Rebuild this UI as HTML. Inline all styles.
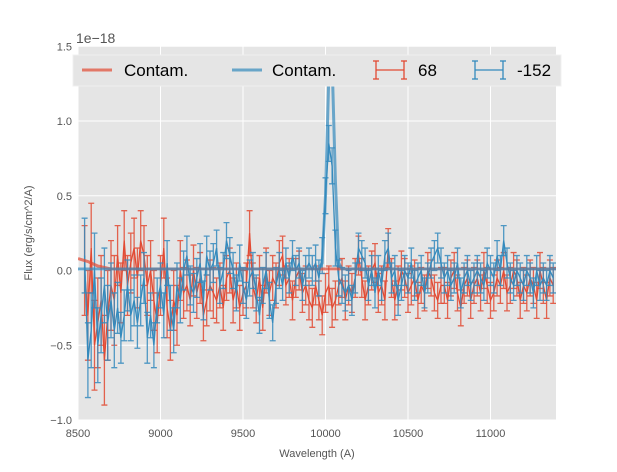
<!DOCTYPE html>
<html><head><meta charset="utf-8"><style>
body{margin:0;background:#fff;font-family:"Liberation Sans","DejaVu Sans",sans-serif}
svg text{font-family:"Liberation Sans","DejaVu Sans",sans-serif}
</style></head><body>
<svg id="chart" width="617" height="467" xmlns="http://www.w3.org/2000/svg">
<rect x="0" y="0" width="617" height="467" fill="#fff"/>
<rect x="78" y="46" width="478" height="374" fill="#e5e5e5"/>
<g id="grid"></g>
<defs><clipPath id="clip"><rect x="78" y="46" width="478" height="374"/></clipPath></defs>
<g id="marks" clip-path="url(#clip)"></g>
<g id="axes"></g>
<text x="76" y="43" font-size="14" fill="#555">1e−18</text>
<text x="317" y="457" font-size="11" fill="#555" text-anchor="middle">Wavelength (A)</text>
<text transform="translate(32,233) rotate(-90)" font-size="11" fill="#555" text-anchor="middle">Flux (erg/s/cm^2/A)</text>
<g>
<rect x="73" y="55" width="488" height="31" fill="#e5e5e5" stroke="#f0f0f0"/>
<line x1="82" y1="70" x2="112" y2="70" stroke="#E24A33" stroke-width="3" opacity="0.7"/>
<text x="124" y="76" font-size="17">Contam.</text>
<line x1="232" y1="70" x2="262" y2="70" stroke="#348ABD" stroke-width="3" opacity="0.7"/>
<text x="272" y="76" font-size="17">Contam.</text>
<g stroke="#E24A33" stroke-width="1.3"><line x1="376" y1="70" x2="404" y2="70"/><line x1="376" y1="61" x2="376" y2="79"/><line x1="404" y1="61" x2="404" y2="79"/><line x1="373" y1="61" x2="379" y2="61"/><line x1="373" y1="79" x2="379" y2="79"/><line x1="401" y1="61" x2="407" y2="61"/><line x1="401" y1="79" x2="407" y2="79"/></g>
<text x="418" y="76" font-size="17">68</text>
<g stroke="#348ABD" stroke-width="1.3"><line x1="475" y1="70" x2="503" y2="70"/><line x1="475" y1="61" x2="475" y2="79"/><line x1="503" y1="61" x2="503" y2="79"/><line x1="472" y1="61" x2="478" y2="61"/><line x1="472" y1="79" x2="478" y2="79"/><line x1="500" y1="61" x2="506" y2="61"/><line x1="500" y1="79" x2="506" y2="79"/></g>
<text x="517" y="76" font-size="17">-152</text>
</g>
</svg>
<script>
const waveStart = 8540, waveStep = 20;
const redFlux = [0.0,-0.3,0.15,-0.5,-0.35,-0.2,-0.6,-0.3,-0.1,
-0.2,0.1,-0.15,0.2,-0.1,0.05,0.15,-0.05,0.2,0.1,
-0.1,0.0,-0.2,-0.35,-0.1,0.15,-0.25,-0.4,-0.2,-0.3,
0.0,-0.15,-0.1,-0.2,0.0,-0.15,-0.05,-0.3,-0.2,-0.1,
-0.15,-0.2,-0.1,-0.25,-0.05,0.0,-0.2,-0.1,-0.25,-0.15,
-0.1,0.25,-0.1,-0.2,-0.05,-0.25,0.0,-0.15,-0.05,-0.1,
0.05,0.1,-0.1,-0.05,-0.2,-0.05,0.0,-0.15,-0.1,-0.2,
-0.25,-0.1,-0.2,-0.3,-0.15,-0.1,-0.25,-0.2,-0.1,-0.05,
-0.2,-0.1,-0.15,-0.05,0.1,-0.05,-0.2,-0.1,0.0,0.05,
-0.15,-0.1,-0.2,0.15,-0.05,-0.2,-0.1,0.0,-0.05,-0.15,
-0.1,-0.05,-0.2,-0.1,-0.15,0.0,-0.05,-0.15,-0.2,-0.1,
-0.1,-0.2,-0.05,0.0,-0.15,-0.25,-0.1,-0.05,-0.2,-0.1,
-0.05,-0.15,0.0,-0.1,-0.2,-0.15,-0.05,-0.1,0.0,-0.15,
-0.1,0.0,-0.05,-0.2,-0.1,-0.15,-0.05,-0.1,-0.2,0.0,
-0.1,-0.2,-0.05,-0.1];
const blueFlux = [0.1,-0.6,-0.4,0.0,-0.5,-0.3,-0.1,-0.35,-0.2,
-0.4,-0.25,-0.45,-0.3,-0.1,-0.3,-0.2,-0.35,-0.2,-0.05,
-0.45,-0.3,-0.5,-0.2,-0.1,-0.3,0.05,-0.25,-0.4,-0.1,
-0.2,0.0,0.1,-0.1,-0.15,-0.05,0.05,-0.2,0.1,0.0,
0.05,0.15,-0.1,0.0,0.2,0.1,0.0,-0.15,0.05,-0.1,
-0.2,-0.05,0.0,-0.15,-0.3,-0.1,0.0,-0.2,-0.35,-0.1,
0.0,-0.1,0.05,-0.05,0.1,0.0,0.05,-0.1,0.0,0.05,
0.0,0.05,-0.05,0.1,0.5,0.85,0.7,0.15,-0.05,-0.1,
-0.15,-0.1,-0.2,-0.05,0.15,0.1,0.05,-0.1,0.0,-0.15,
0.0,-0.1,0.1,0.15,-0.05,0.0,-0.2,-0.1,0.0,-0.05,
0.05,-0.1,-0.05,0.0,-0.15,-0.05,0.05,0.1,0.15,0.05,
-0.05,0.0,-0.1,-0.05,0.05,-0.15,-0.05,0.0,-0.1,-0.05,
0.0,-0.05,-0.1,0.05,0.0,-0.05,0.1,0.0,0.2,0.05,
-0.05,-0.1,0.0,-0.05,-0.1,0.0,-0.05,-0.15,0.0,-0.1,
-0.05,-0.1,0.0,-0.05];
const redErrBySegment = [0.3,0.2,0.2,0.17,0.15,0.15,0.13,0.13,0.13,0.13,0.12,0.12,0.12,0.12,0.12];
const blueErrBySegment = [0.25,0.17,0.15,0.13,0.12,0.12,0.1,0.12,0.1,0.1,0.1,0.1,0.1,0.1,0.1];
const contamRedWave = [8500,8560,8620,8700,11400];
const contamRed = [0.08,0.06,0.03,0.01,0.01];
const contamBlueWave = [8500,9960,9980,10000,10020,10040,10060,10080,10100,11400];
const contamBlue = [0.01,0.01,0.05,0.5,1.3,1.4,0.6,0.05,0.01,0.01];
const xTicks = [8500,9000,9500,10000,10500,11000];
const yTicks = [-1.0,-0.5,0.0,0.5,1.0,1.5];
const yTickLabels = ["−1.0","−0.5","0.0","0.5","1.0","1.5"];

const NS="http://www.w3.org/2000/svg";
const X = w => 78 + (w-8500)*0.165;
const Y = v => 270.5 - v*149.5;
function mk(tag, attrs, parent){const e=document.createElementNS(NS,tag);for(const k in attrs)e.setAttribute(k,attrs[k]);parent.appendChild(e);return e;}
const grid=document.getElementById('grid'), axes=document.getElementById('axes'), marks=document.getElementById('marks');
xTicks.forEach(t=>{
  const l=mk('line',{x1:X(t),x2:X(t),y1:46,y2:420,stroke:'#fff','stroke-width':1},grid);
  
  
  const tx=mk('text',{x:X(t),y:437,'font-size':11,fill:'#555','text-anchor':'middle'},axes);
  tx.textContent=t;
  
  
});
yTicks.forEach((t,i)=>{
  const l=mk('line',{x1:78,x2:556,y1:Y(t),y2:Y(t),stroke:'#fff','stroke-width':1},grid);
  
  
  const tx=mk('text',{x:72,y:Y(t)+4,'font-size':11,fill:'#555','text-anchor':'end'},axes);
  tx.textContent=yTickLabels[i];
  
  
});
function series(vals, errs, color, name){
  const g=mk('g',{stroke:color,'stroke-width':1.3,fill:'none'},marks);
  
  
  let d='';
  vals.forEach((v,i)=>{
    const x=X(waveStart+i*waveStep), e=errs[Math.floor(i/10)];
    const y1=Y(v+e), y2=Y(v-e);
    mk('path',{d:`M${x},${y1}V${y2}M${x-3},${y1}H${x+3}M${x-3},${y2}H${x+3}`,opacity:0.85},g);
    d+=(i?'L':'M')+x+','+Y(v);
  });
  mk('path',{d:d},g);
}
function contam(ws, vs, color, name){
  const p=mk('path',{d:ws.map((w,i)=>(i?'L':'M')+X(w)+','+Y(vs[i])).join(''),stroke:color,'stroke-width':3,fill:'none',opacity:0.7},marks);
  
  
}
series(redFlux, redErrBySegment, '#E24A33', 'series-68');
series(blueFlux, blueErrBySegment, '#348ABD', 'series-minus-152');
contam(contamRedWave, contamRed, '#E24A33', 'contam-red');
contam(contamBlueWave, contamBlue, '#348ABD', 'contam-blue');
</script>
</body></html>
